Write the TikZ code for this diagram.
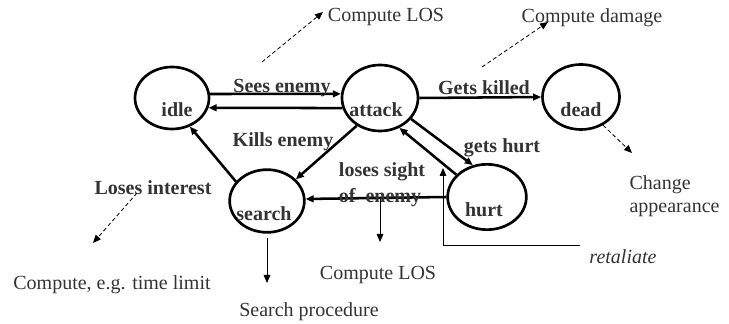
\documentclass[tikz,border=0pt]{standalone}
\usepackage{fontspec}
\setmainfont{Liberation Serif}
\usetikzlibrary{arrows.meta,shapes.geometric}
\definecolor{ink}{HTML}{333333}
\tikzset{
  state/.style={draw=black, line width=2pt, ellipse, inner sep=0pt},
  trans/.style={line width=1.9pt, -{Triangle[length=6pt,width=5pt]}},
  note/.style={line width=0.6pt, densely dashed, -{Triangle[length=6pt,width=5pt]}},
  plain/.style={line width=0.6pt, -{Triangle[length=6pt,width=5pt]}},
  txt/.style={text=ink, inner sep=1pt, font=\fontsize{15}{17}\selectfont},
  lbl/.style={text=ink, inner sep=1pt, font=\fontsize{15}{17}\selectfont\bfseries},
}
\begin{document}
\begin{tikzpicture}[x=0.75pt,y=-0.75pt]
\useasboundingbox (0,0) rectangle (729,324);

% states
\node[state, minimum width=55.5pt, minimum height=46.5pt] (idle)   at (172,98)  {};
\node[state, minimum width=57pt,   minimum height=49.5pt] (attack) at (380,98)  {};
\node[state, minimum width=57.75pt,minimum height=48.75pt](dead)   at (581,97)  {};
\node[state, minimum width=56pt,   minimum height=47pt]   (search) at (267,201) {};
\node[state, minimum width=59pt,   minimum height=49pt]   (hurt)   at (487,197) {};

\node[lbl] (idleT)   at (177,110) {idle};
\node[lbl] (attackT) at (376,110) {attack};
\node[lbl] (deadT)   at (581,110) {dead};
\node[lbl] (searchT) at (264,214) {search};
\node[lbl] (hurtT)   at (484,210) {hurt};

% transitions
\draw[trans] (idle.6) -- (attack.174);
\draw[trans] (attack.195) -- (idle.-15);
\draw[trans] (attack.0) -- (dead.180);
\draw[trans] (attack.230) -- (search.37);
\draw[trans] (search.148) -- (idle.-58);
\draw[trans] (attack.-34) -- (hurt.114);
\draw[trans] (hurt.144) -- (attack.-57);
\draw[trans] (hurt.180) -- (search.3);

% transition labels
\node[lbl] (seesL)   at (282,88)  {Sees enemy};
\node[lbl] (killedL) at (484,88)  {Gets killed};
\node[lbl] (killsL)  at (283,142) {Kills enemy};
\node[lbl] (hurtL)   at (502,148) {gets hurt};
\node[lbl] (loseIL)  at (153,188) {Loses interest};
\node[lbl] (sightL)  at (382,172) {loses sight};
\node[lbl] (ofL)     at (380,198) {of~~enemy};

% annotations
\node[txt] (losTop)  at (386,17)  {Compute LOS};
\node[txt] (dmg)     at (592,18)  {Compute damage};
\node[txt, align=left, anchor=west] (change) at (628,196) {Change\\appearance};
\node[txt, font=\fontsize{15}{17}\selectfont\itshape] (retal) at (623,257) {retaliate};
\node[txt] (losBot)  at (378,275) {Compute LOS};
\node[txt] (proc)    at (309,312) {Search procedure};
\node[txt] (limit)   at (112,285) {Compute, e.g. time limit};

\coordinate (losFrom)  at (262,62);
\coordinate (losTo)    at (323,12);
\coordinate (dmgFrom)  at (482,67);
\coordinate (dmgTo)    at (548,22);
\coordinate (intFrom)  at (137,193);
\coordinate (intTo)    at (93,243);
\coordinate (chgTo)    at (632,153);
\coordinate (sightFrom) at (380,198);
\coordinate (sightTo)  at (380,242);
\coordinate (procFrom) at (267,238);
\coordinate (procTo)   at (267,283);
\coordinate (retEnd)   at (580,245);
\coordinate (retCorner) at (443,245);
\coordinate (retTo)    at (443,168);

\draw[note] (losFrom) -- (losTo);
\draw[note] (dmgFrom) -- (dmgTo);
\draw[note] (intFrom) -- (intTo);
\draw[note] (dead.-52) -- (chgTo);
\draw[plain] (sightFrom) -- (sightTo);
\draw[plain] (procFrom) -- (procTo);
\draw[plain] (retEnd) -- (retCorner) -- (retTo);
\end{tikzpicture}
\end{document}
